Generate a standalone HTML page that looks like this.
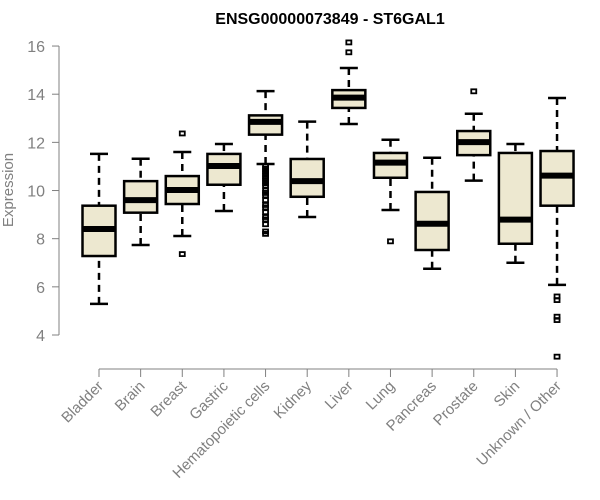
<!DOCTYPE html>
<html><head><meta charset="utf-8"><style>body{margin:0;background:#fff}svg{display:block;font-family:"Liberation Sans",Arial,sans-serif}</style></head>
<body>
<svg id="chart" width="600" height="500" xmlns="http://www.w3.org/2000/svg">
<text x="330" y="24" text-anchor="middle" font-weight="bold" font-size="16">ENSG00000073849 - ST6GAL1</text>
<text transform="translate(13,190) rotate(-90)" text-anchor="middle" font-size="15" fill="#808080">Expression</text>
<g id="yaxis"></g>
<g id="xaxis"></g>
<g id="boxes"></g>
</svg>
<script>
const categories=["Bladder","Brain","Breast","Gastric","Hematopoietic cells","Kidney","Liver","Lung","Pancreas","Prostate","Skin","Unknown / Other"];
const whiskerLow=[5.29,7.74,8.11,9.15,11.1,8.9,12.76,9.19,6.75,10.41,7.0,6.08];
const q1=[7.28,9.08,9.44,10.24,12.32,9.74,13.43,10.53,7.53,11.47,7.79,9.37];
const medians=[8.40,9.6,10.02,11.02,12.85,10.39,13.86,11.16,8.62,12.01,8.79,10.62];
const q3=[9.37,10.39,10.6,11.52,13.12,11.31,14.17,11.56,9.94,12.47,11.56,11.64];
const whiskerHigh=[11.52,11.32,11.6,11.93,14.13,12.86,15.09,12.11,11.36,13.19,11.93,13.84];
const outliers=[[],[],[12.37,7.36],[],[11.0,10.9,10.8,10.7,10.6,10.5,10.4,10.3,10.2,10.0,9.9,9.8,9.6,9.4,9.3,9.1,8.9,8.8,8.6,8.3,8.2],[],[16.15,15.74],[7.89],[],[14.12],[],[5.6,5.45,4.76,4.62,3.1]];
const yTicks=[4,6,8,10,12,14,16];
const NS="http://www.w3.org/2000/svg";
const y=v=>335-(v-4)*24.08;
const x=i=>99+i*41.64;
function mk(tag,attrs,parent){const e=document.createElementNS(NS,tag);for(const k in attrs)e.setAttribute(k,attrs[k]);parent.appendChild(e);return e;}
const ya=document.getElementById('yaxis');
let l=mk('line',{x1:59,x2:59,y1:y(16),y2:y(4),stroke:'#808080'},ya);


yTicks.forEach(t=>{
  const tk=mk('line',{x1:52,x2:59,y1:y(t),y2:y(t),stroke:'#808080'},ya);
  
  
  const tx=mk('text',{x:45,y:y(t)+6,'text-anchor':'end','font-size':16,fill:'#808080'},ya);
  
  
  tx.textContent=t;
});
const xa=document.getElementById('xaxis');
l=mk('line',{x1:x(0),x2:x(11),y1:369,y2:369,stroke:'#808080'},xa);


const bx=document.getElementById('boxes');
categories.forEach((c,i)=>{
  const cx=x(i);
  const tk=mk('line',{x1:cx,x2:cx,y1:369,y2:377,stroke:'#808080'},xa);
  
  
  const tx=mk('text',{transform:`translate(${cx+5},${387}) rotate(-45)`,'text-anchor':'end','font-size':15,fill:'#808080'},xa);
  
  
  tx.textContent=c;
  const g=mk('g',{},bx);
  
  
  mk('line',{x1:cx,x2:cx,y1:y(whiskerHigh[i]),y2:y(q3[i]),stroke:'#000','stroke-width':2.5,'stroke-dasharray':'7,5'},g);
  mk('line',{x1:cx,x2:cx,y1:y(whiskerLow[i]),y2:y(q1[i]),stroke:'#000','stroke-width':2.5,'stroke-dasharray':'7,5'},g);
  mk('line',{x1:cx-9,x2:cx+9,y1:y(whiskerHigh[i]),y2:y(whiskerHigh[i]),stroke:'#000','stroke-width':2.5},g);
  mk('line',{x1:cx-9,x2:cx+9,y1:y(whiskerLow[i]),y2:y(whiskerLow[i]),stroke:'#000','stroke-width':2.5},g);
  mk('rect',{x:cx-16.5,y:y(q3[i]),width:33,height:y(q1[i])-y(q3[i]),fill:'#ede8d0',stroke:'#000','stroke-width':2.5},g);
  mk('line',{x1:cx-16.5,x2:cx+16.5,y1:y(medians[i]),y2:y(medians[i]),stroke:'#000','stroke-width':6},g);
  outliers[i].forEach(o=>{
    const p=mk('rect',{x:cx-2.5,y:y(o)-2,width:5,height:4,fill:'none',stroke:'#000','stroke-width':1.8},g);
    
    
  });
});
</script>
</body></html>
